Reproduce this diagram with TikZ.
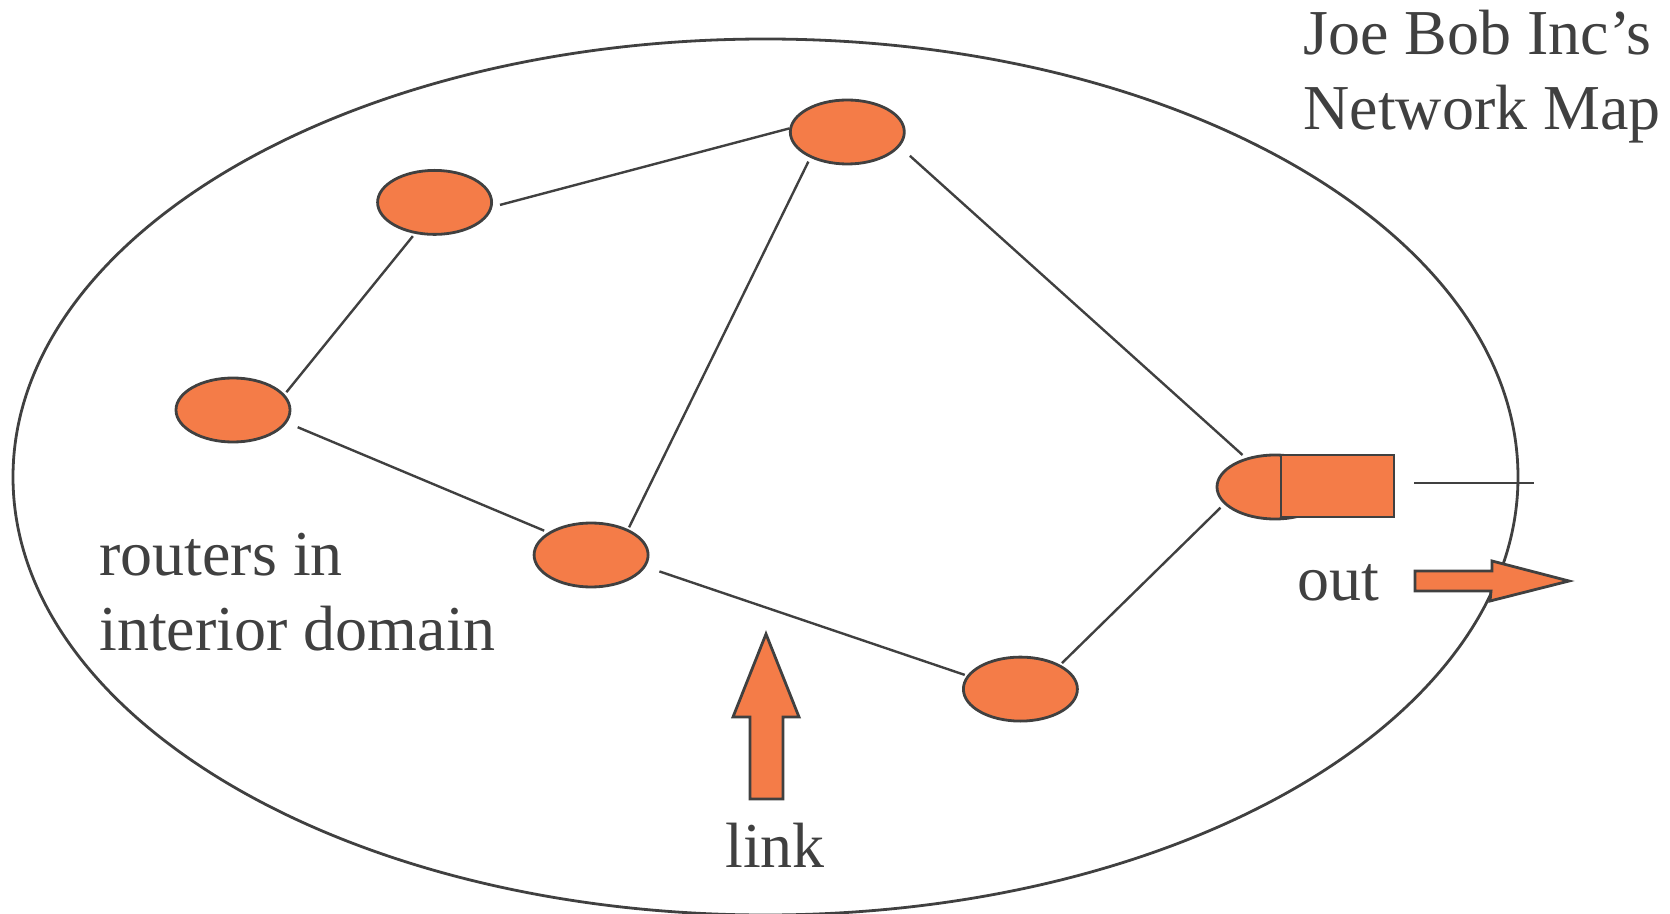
\documentclass[tikz,border=0pt]{standalone}
\usepackage{fontspec}
\setmainfont{Liberation Serif}
\usetikzlibrary{shapes.geometric}
\definecolor{ink}{HTML}{404040}
\definecolor{orng}{RGB}{244,124,72}
\begin{document}
\begin{tikzpicture}[x=0.5pt,y=-0.5pt,
  router/.style={ellipse, draw=ink, fill=orng, line width=1.4pt, minimum width=57pt, minimum height=32pt, inner sep=0pt, outer sep=0pt},
  wire/.style={draw=ink, line width=1.2pt},
  lbl/.style={text=ink, font=\fontsize{32}{37.5}\selectfont, inner sep=0pt},
  bigarrow/.style={draw=ink, fill=orng, line width=1.4pt, line join=miter}]
\useasboundingbox (0,0) rectangle (1670,914);
\node[ellipse, draw=ink, line width=1.4pt, minimum width=752.5pt, minimum height=438pt, inner sep=0pt] (domain) at (765.5,477) {};
% routers
\node[router] (R0) at (233,410) {};
\node[router] (R1) at (434.6,202.4) {};
\node[router] (R2) at (847.3,132) {};
\node[router] (R3) at (591.1,555) {};
\node[router] (R4) at (1020.4,689.1) {};
\node[router, minimum width=58pt] (GW) at (1275,487) {};
\node[draw=ink, fill=orng, line width=1.4pt, minimum width=56.5pt, minimum height=31pt, inner sep=0pt, outer sep=0pt] (GWport) at (1337.5,486) {};
% links
\draw[wire, shorten <=2.3pt, shorten >=2.1pt] (R1.238) -- (R0.16);
\draw[wire, shorten <=4.7pt, shorten >=0.7pt] (R1.-5.6) -- (R2.176);
\draw[wire, shorten <=2.8pt, shorten >=1.7pt] (R2.214) -- (R3.34.8);
\draw[wire, shorten <=7.5pt, shorten >=3pt] (R2.-15.5) -- (GW.135);
\draw[wire, shorten <=6.5pt, shorten >=3pt] (R0.-13.8) -- (R3.152.3);
\draw[wire, shorten <=7.9pt, shorten >=1.9pt] (R3.-12.2) -- (R4.166);
\draw[wire, shorten <=1.9pt, shorten >=3.2pt] (R4.31.6) -- (GW.198.8);
\coordinate (extA) at (1414,483);
\coordinate (extB) at (1534,483);
\draw[wire] (extA) -- (extB);
% arrows
\draw[bigarrow] (766,634) -- (799,717) -- (783,717) -- (783,799) -- (750,799) -- (750,717) -- (733,717) -- cycle;
\draw[bigarrow] (1415,571) -- (1492,571) -- (1492,561) -- (1569,581) -- (1490,601) -- (1491,591) -- (1415,591) -- cycle;
% labels
\node[lbl, anchor=base west, align=left] (title) at (1303,130) {Joe Bob Inc's\\Network Map};
\node[lbl, anchor=base west, align=left] (interior) at (99,650) {routers in\\interior domain};
\node[lbl, anchor=base] (linklbl) at (775,867) {link};
\node[lbl, anchor=base west] (outlbl) at (1297,600) {out};
\end{tikzpicture}
\end{document}
